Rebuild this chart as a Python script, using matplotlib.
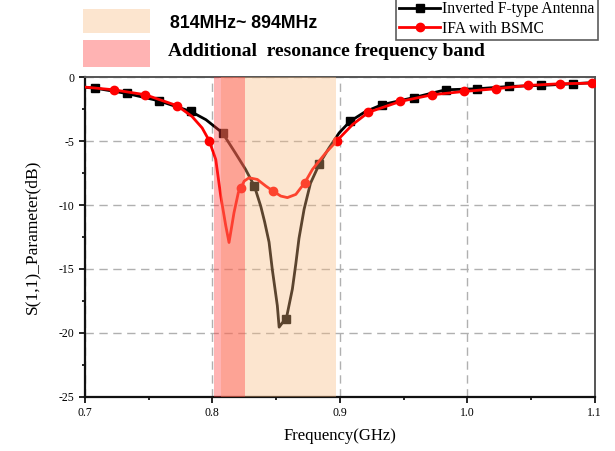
import matplotlib
matplotlib.use("Agg")
import matplotlib.pyplot as plt
from matplotlib.patches import Rectangle
from matplotlib.ticker import MultipleLocator, FormatStrFormatter

plt.rcParams['font.family'] = ['Liberation Serif', 'DejaVu Serif']
plt.rcParams['axes.unicode_minus'] = False

# Inverted F-type Antenna (curve)
ifa_freq = [0.700, 0.708, 0.733, 0.758, 0.783, 0.795, 0.808, 0.818, 0.826, 0.833,
            0.838, 0.841, 0.8445, 0.847, 0.851, 0.8524, 0.855, 0.858, 0.8628, 0.8655,
            0.868, 0.872, 0.877, 0.884, 0.8916, 0.8995, 0.908, 0.920, 0.933, 0.958,
            0.983, 1.008, 1.033, 1.058, 1.083, 1.100]
ifa_s11 = [-0.80, -0.86, -1.28, -1.85, -2.68, -3.33, -4.36, -5.92, -7.20, -8.52,
           -10.1, -11.3, -12.9, -15.0, -17.87, -19.55, -19.2, -18.9, -16.57, -14.6,
           -12.6, -10.33, -8.3, -6.78, -5.53, -4.36, -3.46, -2.70, -2.16, -1.60,
           -0.99, -0.91, -0.73, -0.65, -0.52, -0.42]
ifa_marks = [1, 2, 3, 4, 6, 9, 17, 23, 26, 28, 29, 30, 31, 32, 33, 34]

# IFA with BSMC
bsmc_freq = [0.700, 0.7225, 0.7475, 0.7725, 0.784, 0.792, 0.7975, 0.8027, 0.8066, 0.8105,
             0.8131, 0.817, 0.8204, 0.8225, 0.825, 0.8288, 0.8353, 0.842, 0.8475, 0.8537,
             0.8589, 0.8655, 0.8725, 0.8785, 0.889, 0.8975, 0.910, 0.9225, 0.9475, 0.9725,
             0.9975, 1.0225, 1.0475, 1.0725, 1.0975, 1.100]
bsmc_s11 = [-0.78, -0.99, -1.38, -2.24, -3.07, -3.97, -4.96, -6.44, -9.3, -11.6,
            -12.93, -10.6, -9.03, -8.65, -8.13, -7.87, -8.0, -8.52, -8.9, -9.3,
            -9.42, -9.17, -8.26, -7.22, -5.92, -5.0, -3.71, -2.75, -1.9, -1.38,
            -1.12, -0.91, -0.65, -0.52, -0.47, -0.46]
bsmc_marks = [1, 2, 3, 6, 13, 18, 22, 25, 27, 28, 29, 30, 31, 32, 33, 34]

# shaded bands (GHz)
main_band = (0.807, 0.897)
extra_band = (0.801, 0.826)
main_label = "814MHz~ 894MHz"
extra_label = "Additional  resonance frequency band"

peach = '#F8B97E'
pink = '#FF3838'

fig = plt.figure(figsize=(6.15, 4.51), dpi=100)
ax = fig.add_axes([0.138, 0.12, 0.829, 0.709])

ax.plot(ifa_freq, ifa_s11, color='black', lw=2, marker='s', ms=5.5,
        markevery=ifa_marks, label='Inverted F-type Antenna', zorder=3)
ax.plot(bsmc_freq, bsmc_s11, color='red', lw=2, marker='o', ms=6,
        markevery=bsmc_marks, label='IFA with BSMC', zorder=4)

ax.axvspan(*main_band, color=peach, alpha=0.37, lw=0, zorder=5)
ax.axvspan(*extra_band, color=pink, alpha=0.38, lw=0, zorder=6)

ax.set_xlim(0.7, 1.1)
ax.set_ylim(-25, 0)
ax.xaxis.set_major_locator(MultipleLocator(0.1))
ax.xaxis.set_minor_locator(MultipleLocator(0.05))
ax.yaxis.set_major_locator(MultipleLocator(5))
ax.yaxis.set_minor_locator(MultipleLocator(2.5))
ax.xaxis.set_major_formatter(FormatStrFormatter('%.1f'))
ax.tick_params(which='both', direction='out', labelsize=8.5, width=1.2)
ax.tick_params(which='major', length=4)
ax.tick_params(which='minor', length=2.5)
ax.grid(True, which='major', color='#b0b0b0', ls=(0, (6, 4)), lw=1, zorder=1)

for side in ['left', 'bottom']:
    ax.spines[side].set_linewidth(1.6)
    ax.spines[side].set_color('#111111')
for side in ['top', 'right']:
    ax.spines[side].set_linewidth(1.4)
    ax.spines[side].set_color('#555555')

ax.set_xlabel('Frequency(GHz)', fontsize=12, labelpad=6)
ax.set_ylabel('S(1,1)_Parameter(dB)', fontsize=12.5, labelpad=13)

# band key at top left
fig.patches.append(Rectangle((83 / 615, 1 - 33 / 451), 67 / 615, 23.5 / 451,
                             transform=fig.transFigure, color=peach, alpha=0.37, lw=0))
fig.patches.append(Rectangle((83 / 615, 1 - 67 / 451), 67 / 615, 27 / 451,
                             transform=fig.transFigure, color=pink, alpha=0.38, lw=0))
fig.text(170 / 615, 1 - 23 / 451, main_label, fontsize=12.8, fontweight='bold',
         family=['Liberation Sans', 'DejaVu Sans'], va='center', ha='left')
fig.text(168 / 615, 1 - 52 / 451, extra_label, fontsize=14, fontweight='bold',
         va='center', ha='left')

leg = fig.legend(loc='upper right', bbox_to_anchor=(598 / 615, 1 + 2 / 451), fontsize=11.2,
                 frameon=True, fancybox=False, edgecolor='#333333', handlelength=2.6,
                 handletextpad=0.15, borderpad=0.22, labelspacing=0.2, borderaxespad=0)
leg.get_frame().set_linewidth(1.2)

fig.savefig('out.png', dpi=100)
